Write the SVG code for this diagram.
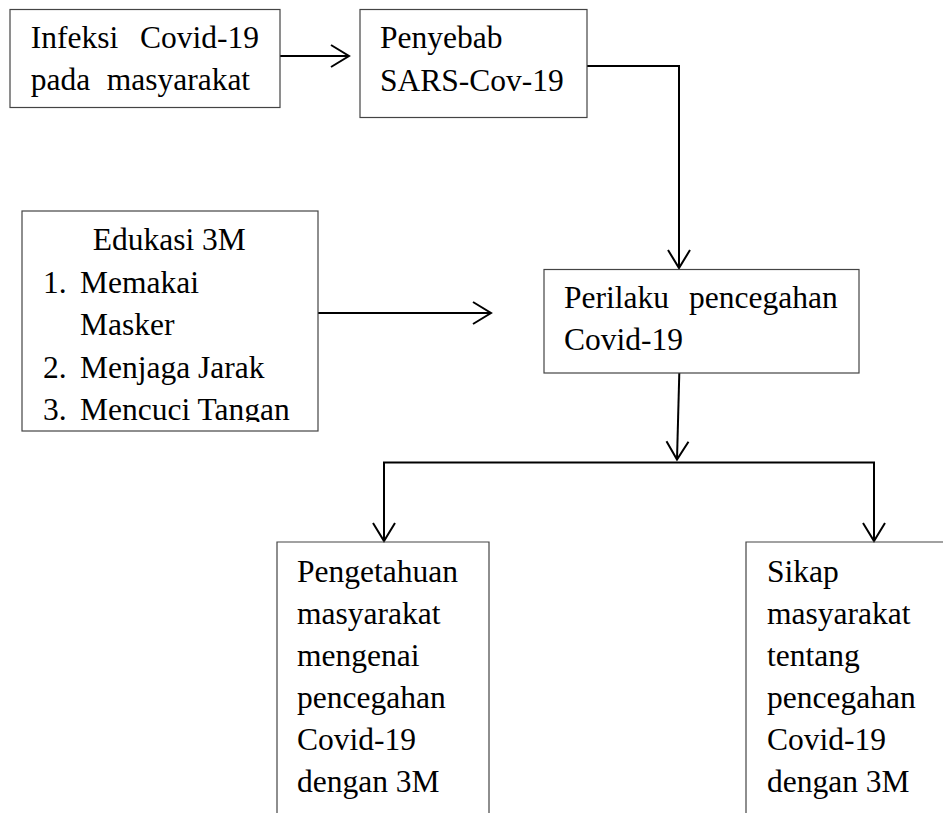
<svg xmlns="http://www.w3.org/2000/svg" width="943" height="813" viewBox="0 0 943 813">
<style>
  .box { fill: #ffffff; stroke: #444444; stroke-width: 1.2; }
  .open { fill: none; stroke: #444444; stroke-width: 1.2; }
  .t { font-family: "Liberation Serif", "Times New Roman", serif; font-size: 31.5px; fill: #000000; }
  .c { fill: none; stroke: #000000; stroke-width: 2; }
</style>
<defs>
  <marker id="arr" markerUnits="userSpaceOnUse" markerWidth="24" markerHeight="26" viewBox="-20 -13 22 26" refX="0" refY="0" orient="auto">
    <path d="M-18,-11 L0,0 L-18,11" fill="none" stroke="#000000" stroke-width="2"/>
  </marker>
  <clipPath id="clipEdu"><rect x="22" y="211" width="296" height="211"/></clipPath>
</defs>
<rect width="943" height="813" fill="#ffffff"/>

<g id="connectors">
  <line class="c" x1="280" y1="56" x2="349" y2="56" marker-end="url(#arr)"/>
  <polyline class="c" points="587,66 679,66 679,268" marker-end="url(#arr)"/>
  <line class="c" x1="318" y1="313" x2="491" y2="313" marker-end="url(#arr)"/>
  <line class="c" x1="679.3" y1="373" x2="677" y2="459.5" marker-end="url(#arr)"/>
  <line class="c" x1="383" y1="462.5" x2="875" y2="462.5"/>
  <line class="c" x1="384" y1="462.5" x2="384" y2="541" marker-end="url(#arr)"/>
  <line class="c" x1="874" y1="462.5" x2="874" y2="541" marker-end="url(#arr)"/>
</g>

<g id="infeksi">
  <rect class="box" x="10" y="9.5" width="270" height="98"/>
  <text class="t" x="30.7" y="47.7">Infeksi</text>
  <text class="t" x="140" y="47.7">Covid-19</text>
  <text class="t" x="30.7" y="90">pada</text>
  <text class="t" x="106.7" y="90">masyarakat</text>
</g>

<g id="penyebab">
  <rect class="box" x="360" y="9.5" width="227" height="108"/>
  <text class="t" x="380" y="48.3">Penyebab</text>
  <text class="t" x="380" y="90.7">SARS-Cov-19</text>
</g>

<g id="edukasi">
  <rect class="box" x="22" y="211" width="296" height="220"/>
  <g clip-path="url(#clipEdu)">
    <text class="t" x="92.7" y="250">Edukasi 3M</text>
    <text class="t" x="43" y="292.5">1.</text>
    <text class="t" x="80" y="292.5">Memakai</text>
    <text class="t" x="80" y="335">Masker</text>
    <text class="t" x="43" y="377.5">2.</text>
    <text class="t" x="80" y="377.5">Menjaga Jarak</text>
    <text class="t" x="43" y="420">3.</text>
    <text class="t" x="80" y="420">Mencuci Tangan</text>
  </g>
</g>

<g id="perilaku">
  <rect class="box" x="544" y="269.5" width="315" height="103.5"/>
  <text class="t" x="564" y="308">Perilaku</text>
  <text class="t" x="689" y="308">pencegahan</text>
  <text class="t" x="564" y="350">Covid-19</text>
</g>

<g id="pengetahuan">
  <path class="open" d="M277,813 V542 H489 V813"/>
  <text class="t" x="297" y="581.7">Pengetahuan</text>
  <text class="t" x="297" y="623.7">masyarakat</text>
  <text class="t" x="297" y="665.7">mengenai</text>
  <text class="t" x="297" y="707.7">pencegahan</text>
  <text class="t" x="297" y="749.7">Covid-19</text>
  <text class="t" x="297" y="791.7">dengan 3M</text>
</g>

<g id="sikap">
  <path class="open" d="M746,813 V542 H943"/>
  <text class="t" x="767" y="581.7">Sikap</text>
  <text class="t" x="767" y="623.7">masyarakat</text>
  <text class="t" x="767" y="665.7">tentang</text>
  <text class="t" x="767" y="707.7">pencegahan</text>
  <text class="t" x="767" y="749.7">Covid-19</text>
  <text class="t" x="767" y="791.7">dengan 3M</text>
</g>
</svg>
